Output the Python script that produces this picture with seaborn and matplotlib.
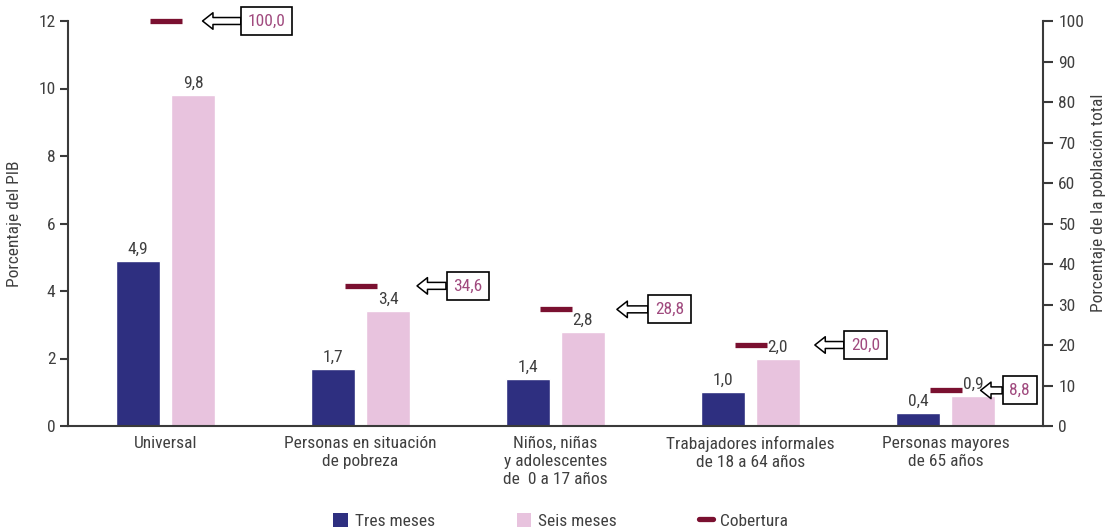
import numpy as np
import pandas as pd
import matplotlib
matplotlib.use("Agg")
import matplotlib.pyplot as plt
from matplotlib import font_manager
from matplotlib.patches import Patch
from matplotlib.lines import Line2D
import seaborn as sns

# ---------------- data ----------------
categories = [
    "Universal",
    "Personas en situación\nde pobreza",
    "Niños, niñas\ny adolescentes\nde  0 a 17 años",
    "Trabajadores informales\nde 18 a 64 años",
    "Personas mayores\nde 65 años",
]
tres_meses = [4.9, 1.7, 1.4, 1.0, 0.4]
seis_meses = [9.8, 3.4, 2.8, 2.0, 0.9]
cobertura = [100.0, 34.6, 28.8, 20.0, 8.8]
series_names = ["Tres meses", "Seis meses"]
left_ticks = [0, 2, 4, 6, 8, 10, 12]
right_ticks = [0, 10, 20, 30, 40, 50, 60, 70, 80, 90, 100]

# ---------------- layout / style ----------------
arrow_tip_off = [0.19, 0.29, 0.315, 0.33, 0.18]
box_center_off = [0.52, 0.55, 0.585, 0.59, 0.38]

C_TRES = "#2e2f80"
C_SEIS = "#e8c3de"
C_COB = "#7a1030"
C_TXT = "#3f3f3f"
C_ANN = "#a04a7e"
C_SPINE = "#3a3a3a"

sns.set_theme(style="white")
names = {f.name for f in font_manager.fontManager.ttflist}
fam = None
for cand in ["Liberation Sans Narrow", "Roboto Condensed", "Open Sans Condensed", "Roboto"]:
    if cand in names:
        fam = cand
        break
plt.rcParams["font.family"] = [fam, "DejaVu Sans"] if fam else ["DejaVu Sans"]
FS = 12.5

df = pd.DataFrame({
    "cat": categories * 2,
    "serie": [series_names[0]] * 5 + [series_names[1]] * 5,
    "valor": tres_meses + seis_meses,
})

fig = plt.figure(figsize=(11.15, 5.31), dpi=100)
ax = fig.add_axes([68 / 1115, 105 / 531, (1043 - 68) / 1115, (426 - 21) / 531])

sns.barplot(data=df, x="cat", y="valor", hue="serie", order=categories,
            hue_order=series_names, palette=[C_TRES, C_SEIS],
            width=0.564, gap=0.2, saturation=1, ax=ax, legend=False)

for cont in ax.containers:
    ax.bar_label(cont, labels=[f"{v:.1f}".replace(".", ",") for v in cont.datavalues],
                 padding=3, fontsize=FS, color=C_TXT)

ax.set_xlim(-0.5, 4.5)
ax.set_ylim(0, 12)
ax.set_yticks(left_ticks)
ax.set_xlabel("")
ax.set_ylabel("Porcentaje del PIB", fontsize=FS, color=C_TXT, labelpad=12)
ax.set_xticks(range(len(categories)))
ax.set_xticklabels(categories, fontsize=FS, color=C_TXT, linespacing=1.25)
ax.set_xticks([0.5, 1.5, 2.5, 3.5], minor=True)
ax.tick_params(axis="x", which="major", length=0, pad=7)
ax.tick_params(axis="x", which="minor", length=6, width=1.5, color=C_SPINE, direction="out")
ax.tick_params(axis="y", which="major", length=6, width=1.5, color=C_SPINE, direction="out",
               labelsize=FS, labelcolor=C_TXT, pad=3, left=True)
for s in ["top", "right"]:
    ax.spines[s].set_visible(False)
for s in ["left", "bottom"]:
    ax.spines[s].set_color(C_SPINE)
    ax.spines[s].set_linewidth(1.5)

ax2 = ax.twinx()
ax2.set_ylim(0, 100)
ax2.set_yticks(right_ticks)
ax2.tick_params(axis="y", length=7, width=1.5, color=C_SPINE, direction="out",
                labelsize=FS, labelcolor=C_TXT, pad=4, right=True)
for s in ["top", "left", "bottom"]:
    ax2.spines[s].set_visible(False)
ax2.spines["right"].set_color(C_SPINE)
ax2.spines["right"].set_linewidth(1.5)
ax2.set_ylabel("Porcentaje de la población total", fontsize=FS, color=C_TXT)
ax2.yaxis.set_label_coords(1.049, 0.55)

xs = np.arange(len(categories))
ax2.plot(xs, cobertura, linestyle="none", marker="_", markersize=23,
         markeredgewidth=3.8, color=C_COB, clip_on=False, zorder=5)

for i, v in enumerate(cobertura):
    ax2.annotate(f"{v:.1f}".replace(".", ","),
                 xy=(i + arrow_tip_off[i], v), xytext=(i + box_center_off[i], v),
                 ha="center", va="center", fontsize=FS, color=C_ANN,
                 bbox=dict(boxstyle="square,pad=0.38", fc="white", ec="black", lw=1.2),
                 arrowprops=dict(arrowstyle="simple,head_length=0.6,head_width=0.95,tail_width=0.4",
                                 fc="white", ec="black", lw=1.1, shrinkA=0, shrinkB=0),
                 annotation_clip=False, zorder=6)

handles = [Patch(facecolor=C_TRES, edgecolor="none"),
           Patch(facecolor=C_SEIS, edgecolor="none"),
           Line2D([0], [0], color=C_COB, lw=3.8)]
fig.legend(handles, ["Tres meses", "Seis meses", "Cobertura"], loc="lower center",
           bbox_to_anchor=(0.503, -0.025), ncol=3, frameon=False, fontsize=FS,
           handlelength=0.85, handleheight=0.85, handletextpad=0.4, columnspacing=4.7,
           labelcolor=C_TXT)

fig.savefig("out.png", dpi=100)
